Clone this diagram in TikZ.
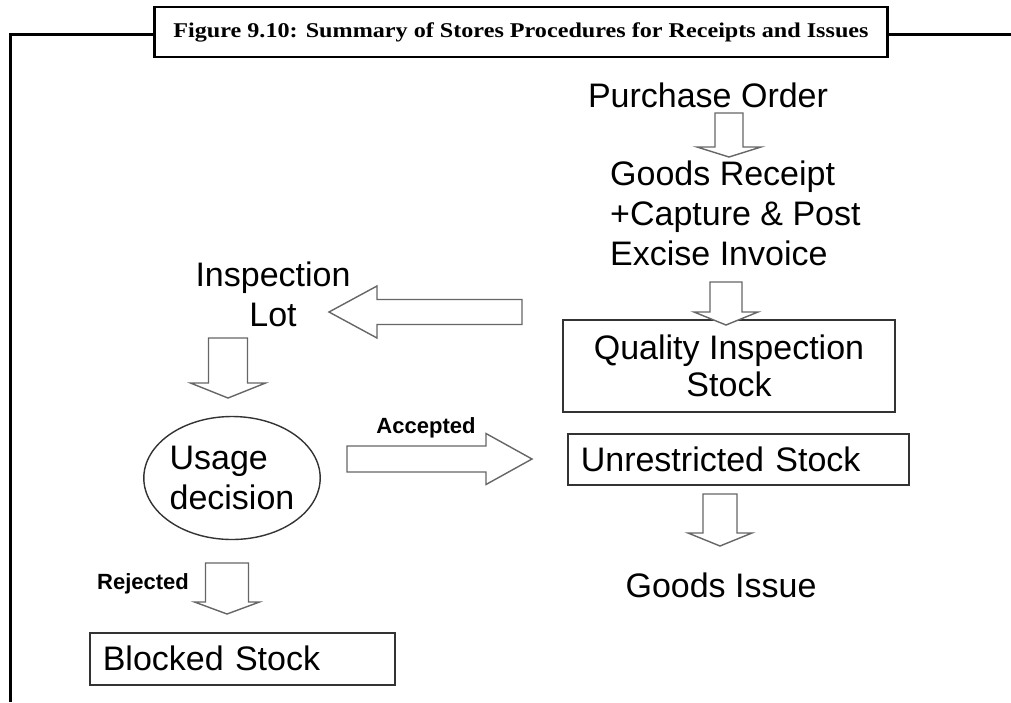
\documentclass[tikz,border=0pt]{standalone}
\usepackage{fontspec}
\setmainfont{Liberation Sans}
\newfontfamily\titlefont[FakeStretch=1.15]{Liberation Serif}
\usetikzlibrary{shapes.geometric}

\begin{document}
\begin{tikzpicture}[x=1pt, y=-1pt,
    lbl/.style={font=\fontsize{34}{40}\selectfont, inner sep=0pt},
    tag/.style={font=\fontsize{22}{26}\selectfont\bfseries, inner sep=0pt},
    stockbox/.style={draw=black!80, line width=1.6pt, inner sep=0pt, font=\fontsize{34}{37}\selectfont},
    pics/fatarrow/.style n args={4}{code={
        \draw[black!60, line width=1.4pt, fill=white, line join=miter]
            (0,-#3) -- (#1-#2,-#3) -- (#1-#2,-#4) -- (#1,0) -- (#1-#2,#4) -- (#1-#2,#3) -- (0,#3) -- cycle;}}]
    \useasboundingbox (0,0) rectangle (1011,702);
    % frame and caption
    \draw[line width=3pt] (10,702) -- (10,34) -- (1011,34);
    \node[draw, line width=2.6pt, fill=white, minimum width=733, minimum height=50, font=\titlefont\fontsize{21}{24}\selectfont\bfseries] (title) at (521,32) {Figure 9.10: Summary of Stores Procedures for Receipts and Issues};
    % receipt side
    \node[lbl, anchor=base] (po) at (708,107) {Purchase Order};
    \node[lbl, align=left, anchor=north west] (gr) at (610,161) {Goods Receipt\\+Capture \& Post\\Excise Invoice};
    \node[stockbox, minimum width=332, minimum height=92, align=center] (qi) at (729,366) {Quality Inspection\\Stock};
    \node[stockbox, anchor=north west, text width=315, align=left, inner xsep=13, minimum height=51] (us) at (567,433) {Unrestricted Stock};
    \node[lbl, anchor=base] (gi) at (721,597) {Goods Issue};
    % inspection side
    \node[lbl, align=center, anchor=north] (il) at (273,262) {Inspection\\Lot};
    \node[draw=black!80, line width=1.4pt, ellipse, minimum width=175, minimum height=123, inner sep=0pt, align=left, font=\fontsize{34}{40}\selectfont] (ud) at (232,478) {Usage\\decision};
    \node[stockbox, anchor=north west, text width=279, align=left, inner xsep=13, minimum height=52] (bs) at (89,632) {Blocked Stock};
    \node[tag, anchor=base] (acc) at (426,433) {Accepted};
    \node[tag, anchor=base] (rej) at (143,589) {Rejected};
    % block arrows
    \pic[rotate=-90] at (729,113) {fatarrow={44}{10}{14}{32}};
    \pic[rotate=-90] at (726,282) {fatarrow={43}{13}{16}{32}};
    \pic[rotate=180] at (522,312) {fatarrow={193}{48}{12.5}{26}};
    \pic[rotate=-90] at (228,338) {fatarrow={60}{15}{19.5}{37.5}};
    \pic at (347,459) {fatarrow={185}{46}{13}{25.5}};
    \pic[rotate=-90] at (720,494) {fatarrow={52}{13}{17}{32}};
    \pic[rotate=-90] at (227,563) {fatarrow={51}{12}{21.5}{32.5}};
\end{tikzpicture}
\end{document}
